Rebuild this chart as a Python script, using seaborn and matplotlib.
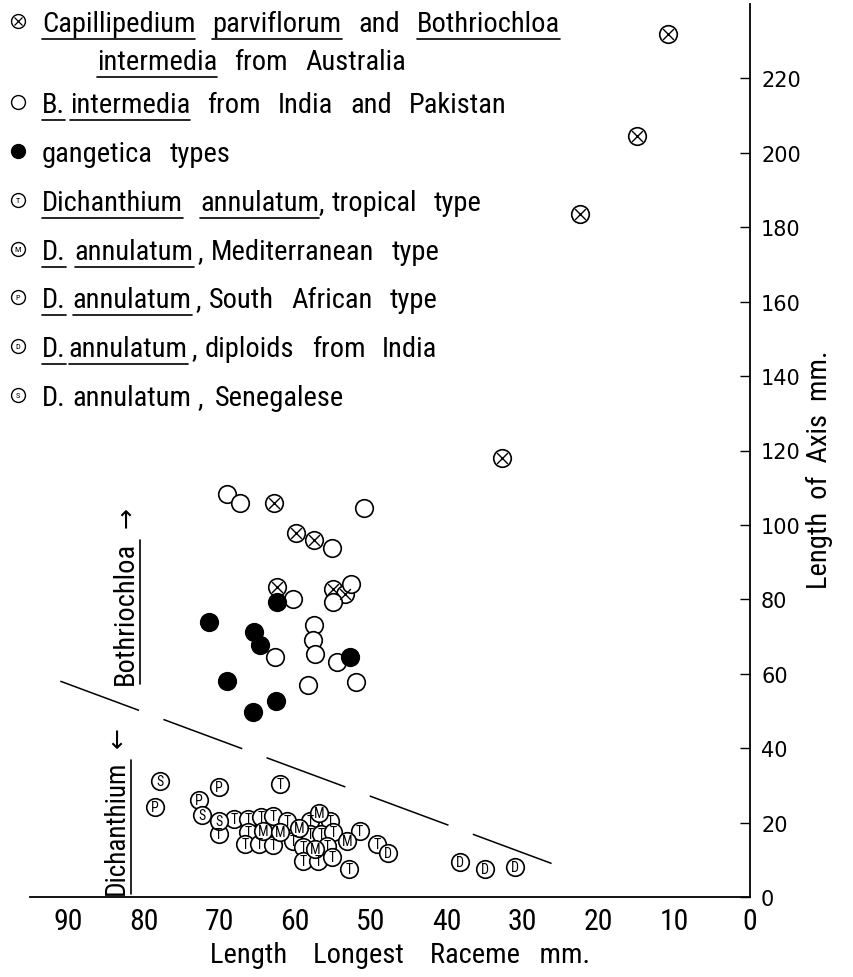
import matplotlib
matplotlib.use('Agg')
import matplotlib.pyplot as plt
import pandas as pd
import seaborn as sns
from matplotlib import font_manager

# values: x = length of longest raceme (mm), y = length of axis (mm)
cross_x = [10.8, 14.9, 22.4, 32.7, 62.8, 59.9, 57.5, 62.4, 55.0, 53.4]
cross_y = [232.0, 204.5, 183.5, 118.0, 106.0, 97.9, 96.0, 83.4, 82.9, 81.3]

open_x = [69.0, 67.3, 50.9, 55.1, 60.3, 52.6, 55.0, 57.5, 57.7, 57.4, 62.7, 54.5, 58.3, 52.0]
open_y = [108.4, 106.0, 104.6, 93.9, 80.0, 84.2, 79.2, 73.0, 69.2, 65.2, 64.4, 63.1, 56.9, 57.7]

gang_x = [62.4, 71.4, 65.4, 64.6, 52.8, 69.0, 62.5, 65.6]
gang_y = [79.2, 73.8, 71.1, 67.6, 64.4, 58.0, 52.6, 49.6]

trop_x = [62.0, 70.1, 68.1, 66.2, 64.5, 62.9, 61.1, 66.2, 60.3, 66.6, 64.8, 62.9,
          58.0, 55.4, 58.0, 56.6, 55.0, 59.0, 55.8, 59.0, 57.0, 55.1, 51.5, 49.2, 52.9]
trop_y = [30.3, 16.9, 20.9, 20.9, 21.5, 21.7, 20.4, 17.4, 15.0, 14.2, 14.2, 14.0,
          20.4, 20.4, 16.9, 16.9, 17.4, 13.4, 13.7, 9.7, 9.7, 10.7, 17.7, 14.2, 7.5]

med_x = [64.2, 62.0, 59.5, 56.9, 57.4, 53.2]
med_y = [17.7, 17.4, 18.5, 22.5, 12.9, 15.0]

safr_x = [78.5, 70.1, 72.7]
safr_y = [24.1, 29.5, 26.0]

dipl_x = [47.8, 38.3, 35.0, 31.0]
dipl_y = [11.8, 9.4, 7.5, 8.0]

sene_x = [77.8, 72.3, 70.1]
sene_y = [31.1, 22.0, 20.4]

divider_x = [91.0, 25.5]
divider_y = [58.0, 8.5]

x_ticks = list(range(0, 91, 10))
y_ticks = list(range(0, 221, 20))

W, H = 854, 978

# pick a narrow face if the machine has one
entries = font_manager.fontManager.ttflist
names = {f.name for f in entries}
narrow, stretch, fs = 'DejaVu Sans', 'normal', 17.5
for cand in ['Liberation Sans Narrow', 'Roboto Condensed', 'Open Sans Condensed',
             'DejaVu Sans Condensed', 'Noto Sans Condensed']:
    if cand in names:
        narrow, fs = cand, 20.5
        break
else:
    cond = [f for f in entries if 'condensed' in str(f.stretch)
            and f.name in ('DejaVu Sans', 'Roboto', 'Open Sans', 'Noto Sans', 'Liberation Sans')]
    if cond:
        narrow, stretch, fs = cond[0].name, 'condensed', 20.5

sns.set_style('white')
plt.rcParams['font.family'] = [narrow, 'DejaVu Sans']
plt.rcParams['font.stretch'] = stretch
for key_name in ['text.color', 'axes.labelcolor', 'xtick.color', 'ytick.color']:
    plt.rcParams[key_name] = 'black'

fig = plt.figure(figsize=(W / 100, H / 100), dpi=100)
ax = fig.add_axes([30 / W, 80 / H, 720 / W, 893 / H])
ax.set_xlim(95, 0)
ax.set_ylim(0, 240)


def plot_group(xs, ys, letter=None, filled=False, cross=False):
    df = pd.DataFrame({'x': xs, 'y': ys})
    sns.scatterplot(data=df, x='x', y='y', ax=ax, s=160, marker='o',
                    color='black' if filled else 'white', edgecolor='black',
                    linewidth=1.2, zorder=3, legend=False)
    if cross:
        sns.scatterplot(data=df, x='x', y='y', ax=ax, s=60, marker='x',
                        color='black', linewidth=1.0, zorder=4, legend=False)
    if letter:
        for x, y in zip(xs, ys):
            ax.text(x, y, letter, ha='center', va='center', fontsize=10, zorder=5)


plot_group(cross_x, cross_y, cross=True)
plot_group(open_x, open_y)
plot_group(gang_x, gang_y, filled=True)
plot_group(trop_x, trop_y, letter='T')
plot_group(med_x, med_y, letter='M')
plot_group(safr_x, safr_y, letter='P')
plot_group(dipl_x, dipl_y, letter='D')
plot_group(sene_x, sene_y, letter='S')

ax.plot(divider_x, divider_y, color='black', lw=1.1, dashes=(55, 17))

for side in ['top', 'left']:
    ax.spines[side].set_visible(False)
for side in ['right', 'bottom']:
    ax.spines[side].set_linewidth(1.3)
    ax.spines[side].set_color('black')

ax.yaxis.tick_right()
ax.set_xticks(x_ticks)
ax.set_yticks(y_ticks)
ax.tick_params(axis='x', direction='in', length=7, width=1, pad=7, labelsize=fs + 1)
ax.tick_params(axis='y', direction='in', length=7, width=1, pad=8, labelsize=15,
               labelfontfamily='DejaVu Sans')
ax.set_xlabel('Length    Longest    Raceme   mm.', fontsize=fs)
ax.xaxis.set_label_coords(0.514, -0.064)
ax.yaxis.set_label_position('right')
ax.set_ylabel('Length  of  Axis  mm.', fontsize=fs, rotation=90)
ax.yaxis.set_label_coords(1.097, 0.48)
ax.yaxis.label.set_va('center')
ax.xaxis.label.set_va('center')

# overlay in pixel units for the key and the side notes
ov = fig.add_axes([0, 0, 1, 1])
ov.set_xlim(0, W)
ov.set_ylim(H, 0)
ov.axis('off')
renderer = fig.canvas.get_renderer()


def write_line(x, base, pieces, size=fs):
    for text, under, gap in pieces:
        x += gap
        t = ov.text(x, base, text, fontsize=size, va='baseline', ha='left')
        bb = t.get_window_extent(renderer)
        if under:
            ov.plot([bb.x0, bb.x1], [base + 8, base + 8], color='black', lw=1.2)
        x = bb.x1


def key_symbol(y, letter=None, filled=False, cross=False):
    ov.plot([18], [y], marker='o', ms=10, mfc='black' if filled else 'white',
            mec='black', mew=1.0)
    if cross:
        ov.plot([18], [y], marker='x', ms=6, color='black', mew=0.9)
    if letter:
        ov.text(18, y, letter, fontsize=6, ha='center', va='center')


g = 17 if fs > 19 else 11
key = [
    (22, dict(cross=True), 42, [('Capillipedium', 1, 0), ('parviflorum', 1, g), ('and', 0, g), ('Bothriochloa', 1, g)]),
    (60, None, 97, [('intermedia', 1, 0), ('from', 0, g), ('Australia', 0, g)]),
    (103, dict(), 42, [('B.', 1, 0), ('intermedia', 1, 5), ('from', 0, g), ('India', 0, g), ('and', 0, g), ('Pakistan', 0, g)]),
    (152, dict(filled=True), 42, [('gangetica', 0, 0), ('types', 0, g)]),
    (201, dict(letter='T'), 42, [('Dichanthium', 1, 0), ('annulatum', 1, g), (',', 0, 0), ('tropical', 0, 7), ('type', 0, g)]),
    (250, dict(letter='M'), 42, [('D.', 1, 0), ('annulatum', 1, 9), (',', 0, 4), ('Mediterranean', 0, 8), ('type', 0, g)]),
    (298, dict(letter='P'), 42, [('D.', 1, 0), ('annulatum', 1, 7), (',', 0, 4), ('South', 0, 8), ('African', 0, g), ('type', 0, g)]),
    (347, dict(letter='D'), 42, [('D.', 1, 0), ('annulatum', 1, 3), (',', 0, 4), ('diploids', 0, 8), ('from', 0, g), ('India', 0, g)]),
    (396, dict(letter='S'), 42, [('D.', 0, 0), ('annulatum', 0, 7), (',', 0, 6), ('Senegalese', 0, 12)]),
]
for y, sym, x0, pieces in key:
    if sym is not None:
        key_symbol(y, **sym)
    write_line(x0, y + 10, pieces)


def side_note(x, y, text, arrow, ay, size=fs):
    t = ov.text(x, y, text, fontsize=size, rotation=90, ha='center', va='center')
    bb = t.get_window_extent(renderer)
    ux = bb.x1 + 2
    ov.plot([ux, ux], [H - bb.y0, H - bb.y1], color='black', lw=1.2)
    ov.text(x + 1, ay, arrow, fontsize=18, rotation=90, ha='center', va='center',
            family='DejaVu Sans')


side_note(125, 613, 'Bothriochloa', '\u2192', 518)
side_note(116, 828, 'Dichanthium', '\u2190', 738, size=fs - 1)

fig.savefig('out.png', dpi=100, facecolor='white')
